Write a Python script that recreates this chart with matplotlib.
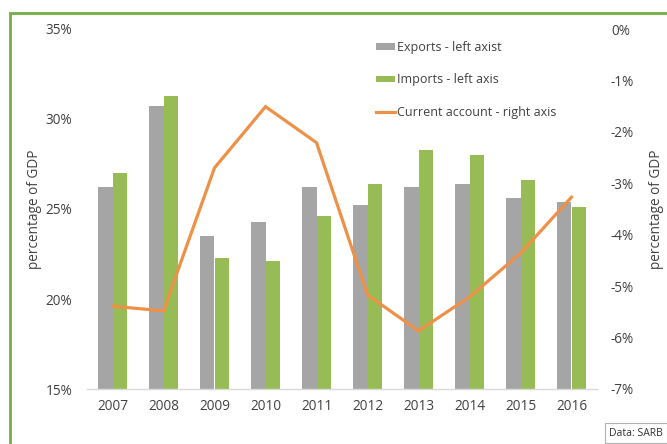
import matplotlib
matplotlib.use("Agg")
import matplotlib.pyplot as plt
from matplotlib.patches import Rectangle, Patch
from matplotlib.lines import Line2D
import numpy as np

plt.rcParams['font.family'] = ['Open Sans', 'DejaVu Sans']

years = ["2007", "2008", "2009", "2010", "2011", "2012", "2013", "2014", "2015", "2016"]
exports = [26.2, 30.7, 23.5, 24.3, 26.2, 25.2, 26.2, 26.4, 25.6, 25.4]
imports = [27.0, 31.3, 22.3, 22.1, 24.6, 26.4, 28.3, 28.0, 26.6, 25.1]
current_account = [-5.39, -5.48, -2.70, -1.51, -2.21, -5.17, -5.87, -5.21, -4.36, -3.27]

left_ticks = [15, 20, 25, 30, 35]
right_ticks = [0, -1, -2, -3, -4, -5, -6, -7]

GRAY = "#a5a5a5"
GREEN = "#97bb55"
ORANGE = "#ee9148"
TEXT = "#404040"
FS = 9.8
LEG_FS = 9.0

W, H = 667, 444
fig = plt.figure(figsize=(W / 100, H / 100), dpi=100)
fig.patch.set_facecolor("white")

ax = fig.add_axes([87 / W, 1 - 389 / H, (597 - 87) / W, (389 - 29) / H])
ax2 = ax.twinx()

x = np.arange(len(years))
bw = 0.285
ax.bar(x - bw / 2, exports, width=bw, color=GRAY, zorder=2)
ax.bar(x + bw / 2, imports, width=bw, color=GREEN, zorder=2)
ax.set_ylim(15, 35)
ax.set_xlim(-0.5, len(years) - 0.5)
ax.set_yticks(left_ticks)
ax.set_yticklabels([f"{t}%" for t in left_ticks])
ax.set_xticks(x)
ax.set_xticklabels(years)
ax.tick_params(axis="both", length=0, labelsize=FS, labelcolor=TEXT)
ax.tick_params(axis="y", pad=10.5)
ax.tick_params(axis="x", pad=7.5)
for side in ["top", "left", "right"]:
    ax.spines[side].set_visible(False)
ax.spines["bottom"].set_color("#d9d9d9")
ax.spines["bottom"].set_linewidth(1)
ax.set_ylabel("percentage of GDP", fontsize=FS, color=TEXT, labelpad=3)

ax2.plot(x, current_account, color=ORANGE, linewidth=2.3, zorder=3,
         solid_joinstyle="miter")
ax2.set_ylim(-7, 0)
ax2.set_yticks(right_ticks)
ax2.set_yticklabels([f"{t}%" for t in right_ticks])
ax2.tick_params(axis="y", length=0, labelsize=FS, labelcolor=TEXT, pad=10)
for side in ["top", "left", "right", "bottom"]:
    ax2.spines[side].set_visible(False)
ax2.set_ylabel("percentage of GDP", fontsize=FS, color=TEXT, labelpad=11)

handles = [
    Patch(facecolor=GRAY, edgecolor="none"),
    Patch(facecolor=GREEN, edgecolor="none"),
    Line2D([0], [0], color=ORANGE, linewidth=2.3),
]
labels = ["Exports - left axist", "Imports - left axis", "Current account - right axis"]
leg = fig.legend(handles, labels, loc="upper left",
                 bbox_to_anchor=(376 / W, 1 - 41 / H), frameon=False,
                 fontsize=LEG_FS, labelcolor=TEXT, borderpad=0, borderaxespad=0,
                 handlelength=1.55, handleheight=0.45, handletextpad=0.15,
                 labelspacing=1.55)

# green frame around the chart, running off the right and bottom edges
fig.patches.append(Rectangle((10 / W, -0.1), 1.2, 1 - 13 / H + 0.1,
                             transform=fig.transFigure, fill=False,
                             edgecolor="#72ad45", linewidth=2, zorder=0))

fig.text(636 / W, 1 - 433 / H, "Data: SARB", fontsize=7.5, color="#303030",
         ha="center", va="center",
         bbox=dict(boxstyle="square,pad=0.4", facecolor="white",
                   edgecolor="#b0b0b0", linewidth=0.8))

fig.savefig("out.png", dpi=100, facecolor="white")
